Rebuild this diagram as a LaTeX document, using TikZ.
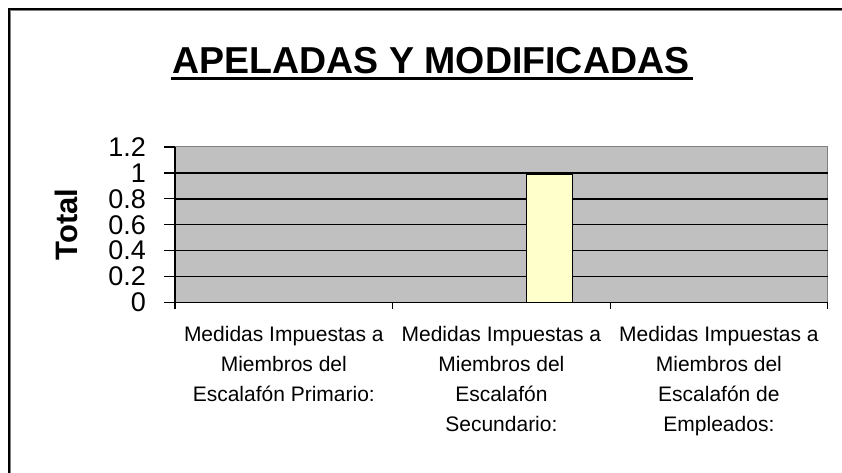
\documentclass[tikz,border=0pt]{standalone}
\usepackage{fontspec}
\setmainfont{Liberation Sans}
\definecolor{plotgray}{HTML}{C0C0C0}
\definecolor{edgegray}{HTML}{808080}
\definecolor{barfill}{HTML}{FFFFCC}
\begin{document}
\begin{tikzpicture}[x=1pt,y=-1pt,
  ylab/.style={anchor=east,inner sep=0pt,font=\fontsize{27}{27}\selectfont},
  catlab/.style={anchor=base,inner sep=0pt,font=\fontsize{21}{30}\selectfont},
  grid/.style={black,line width=1.3pt},
  tickline/.style={black,line width=1.2pt}]
\useasboundingbox (0,0) rectangle (842,473);
\fill[white] (0,0) rectangle (842,473);
\begin{scope}
\clip (0,0) rectangle (842,473);
% outer frame (top and left)
\draw[black,line width=2pt] (9.3,480) -- (9.3,9.5) -- (850,9.5);
\draw[edgegray,line width=1pt] (10.8,480) -- (10.8,11) -- (850,11);
\end{scope}
% title
\node[inner sep=0pt,anchor=base,font=\fontsize{37.5}{37.5}\selectfont\bfseries] (title) at (431,73.3) {APELADAS Y MODIFICADAS};
\draw[black,line width=3pt] (170.5,78.5) -- (692.5,78.5);
% axis title
\node[inner sep=0pt,rotate=90,font=\fontsize{31}{31}\selectfont\bfseries] (ytitle) at (66,224.7) {Total};
% plot area
\coordinate (pa) at (175,147);
\coordinate (pb) at (827.7,302.6);
\filldraw[fill=plotgray,draw=edgegray,line width=1pt] (pa) rectangle (pb);
\foreach \k in {1,...,5} {
  \draw[grid] (175,{302.6-25.93*\k}) -- (827.7,{302.6-25.93*\k});
}
% bar
\filldraw[fill=barfill,draw=black,line width=1.3pt] (526.7,302.6) rectangle (572.3,174);
% axes
\draw[tickline] (175,147) -- (175,309);
\draw[tickline] (175,302.6) -- (827.7,302.6);
\foreach \k in {0,...,6} {
  \draw[tickline] (164,{302.6-25.93*\k}) -- (175,{302.6-25.93*\k});
}
\foreach \xx in {392.6,610.1,827.7} {
  \draw[tickline] (\xx,302.6) -- (\xx,309);
}
% y labels
\node[ylab] (y0) at (146,302.6) {0};
\node[ylab] (y1) at (146,276.7) {0.2};
\node[ylab] (y2) at (146,250.7) {0.4};
\node[ylab] (y3) at (146,224.8) {0.6};
\node[ylab] (y4) at (146,198.9) {0.8};
\node[ylab] (y5) at (146,173.0) {1};
\node[ylab] (y6) at (146,147.0) {1.2};
% category labels
\setlength{\tabcolsep}{0pt}
\node[catlab] (c1) at (283.8,341.7) {\begin{tabular}[t]{c}Medidas Impuestas a\\Miembros del\\Escalafón Primario:\end{tabular}};
\node[catlab] (c2) at (501.4,341.7) {\begin{tabular}[t]{c}Medidas Impuestas a\\Miembros del\\Escalafón\\Secundario:\end{tabular}};
\node[catlab] (c3) at (718.9,341.7) {\begin{tabular}[t]{c}Medidas Impuestas a\\Miembros del\\Escalafón de\\Empleados:\end{tabular}};
\end{tikzpicture}
\end{document}
